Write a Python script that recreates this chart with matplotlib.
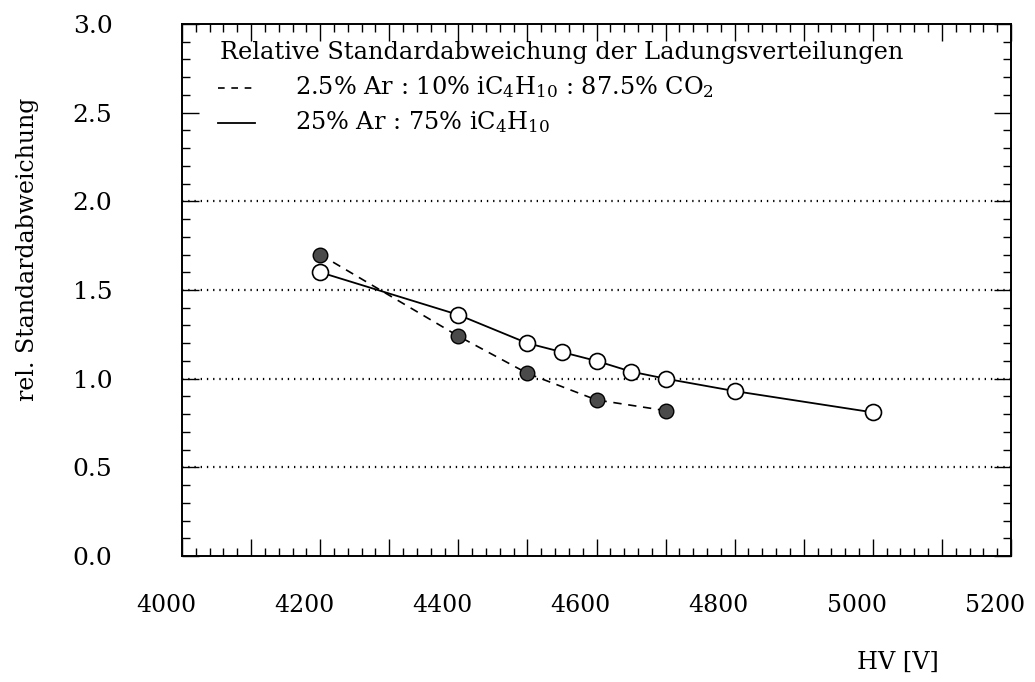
import numpy as np
import matplotlib
matplotlib.use("Agg")
from matplotlib import pyplot as plt
from matplotlib import transforms
from matplotlib.ticker import MultipleLocator, FuncFormatter

# data
hv_co2 = [4200, 4400, 4500, 4600, 4700]
sig_co2 = [1.70, 1.24, 1.03, 0.88, 0.82]

hv_iso = [4200, 4400, 4500, 4550, 4600, 4650, 4700, 4800, 5000]
sig_iso = [1.60, 1.36, 1.20, 1.15, 1.10, 1.04, 1.00, 0.93, 0.81]

title_txt = "Relative Standardabweichung der Ladungsverteilungen"
lbl_co2 = r"2.5% Ar : 10% iC$_4$H$_{10}$ : 87.5% CO$_2$"
lbl_iso = r"25% Ar : 75% iC$_4$H$_{10}$"
grid_y = [0.5, 1.0, 1.5, 2.0]

plt.rcParams['font.family'] = ['DejaVu Serif']
plt.rcParams['mathtext.fontset'] = 'dejavuserif'

fig = plt.figure(figsize=(10.35, 6.82), dpi=100)
ax = fig.add_axes([182/1035, 1-556/682, (1011-182)/1035, (556-24)/682])

ax.set_xlim(4000, 5200)
ax.set_ylim(0, 3)

for g in grid_y:
    ax.axhline(g, color='black', lw=1.6, ls=(0, (0.6, 2.2)), zorder=1)

ax.plot(hv_co2, sig_co2, color='black', lw=1.2, ls=(0, (5, 4)), zorder=2)
ax.plot(hv_iso, sig_iso, color='black', lw=1.3, ls='-', zorder=2)
ax.plot(hv_co2, sig_co2, ls='none', marker='o', ms=10.5, mfc='#4a4a4a',
        mec='black', mew=1.0, zorder=3)
ax.plot(hv_iso, sig_iso, ls='none', marker='o', ms=11.5, mfc='white',
        mec='black', mew=1.2, zorder=3)

# ticks
ax.xaxis.set_major_locator(MultipleLocator(100))
ax.xaxis.set_minor_locator(MultipleLocator(20))
ax.xaxis.set_major_formatter(FuncFormatter(lambda v, p: "%d" % v if int(round(v)) % 200 == 0 else ""))
ax.yaxis.set_major_locator(MultipleLocator(0.5))
ax.yaxis.set_minor_locator(MultipleLocator(0.1))
ax.yaxis.set_major_formatter(FuncFormatter(lambda v, p: "%.1f" % v))
ax.tick_params(which='both', direction='in', top=True, right=True, width=1.0)
ax.tick_params(which='major', length=12)
ax.tick_params(which='minor', length=6)
ax.tick_params(axis='x', which='major', labelsize=17, pad=27)
ax.tick_params(axis='y', which='major', labelsize=18, pad=50)
for sp in ax.spines.values():
    sp.set_linewidth(1.4)

# labels sit a bit left of their ticks in the original
shift = transforms.ScaledTranslation(-16/100, 0, fig.dpi_scale_trans)
for lb in ax.get_xticklabels():
    lb.set_transform(lb.get_transform() + shift)

ax.set_ylabel("rel. Standardabweichung", fontsize=17)
ax.yaxis.set_label_coords(-0.172, 0.577)

txt = dict(fontsize=17.3)
fig.text(220/1035, 1-52/682, title_txt, va='center', ha='left', **txt)
fig.text(295/1035, 1-87/682, lbl_co2, va='center', ha='left', **txt)
fig.text(295/1035, 1-122/682, lbl_iso, va='center', ha='left', **txt)
ax.plot([(218-182)/829, (252-182)/829], [(556-88)/532] * 2, transform=ax.transAxes,
        color='black', lw=1.2, ls=(0, (4, 4)))
ax.plot([(218-182)/829, (255-182)/829], [(556-123)/532] * 2, transform=ax.transAxes,
        color='black', lw=1.3)

fig.text(898/1035, 1-662/682, "HV [V]", ha='center', va='center', **txt)

fig.savefig("out.png", dpi=100)
